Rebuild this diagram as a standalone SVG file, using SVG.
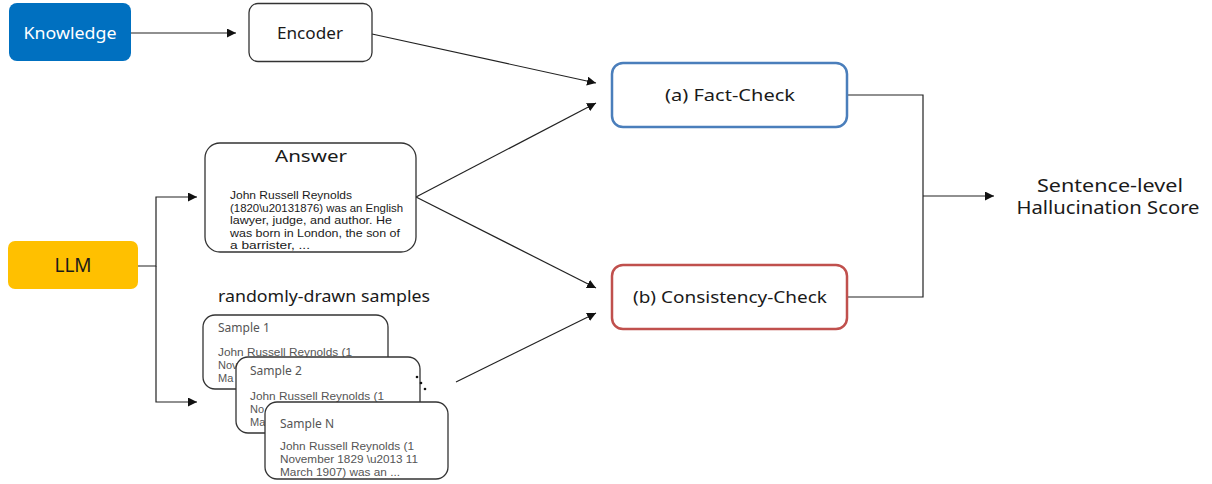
<svg xmlns="http://www.w3.org/2000/svg" width="1212" height="484" viewBox="0 0 1212 484">
<style>
text{font-family:"Noto Sans","Open Sans","Liberation Sans",sans-serif;fill:#1a1a1a}
.box{fill:#fff;stroke:#333;stroke-width:1.3}
.lbl{font-size:17px;text-anchor:middle}
.body{font-family:"Liberation Sans",Arial,sans-serif;font-size:10.5px}
.samp{font-family:"Liberation Sans",Arial,sans-serif;font-size:11px;fill:#555}
.stitle{font-size:12px;fill:#555}
.edge{fill:none;stroke:#222;stroke-width:1.2}
</style>
<defs>
<marker id="ah" viewBox="0 0 10 10" refX="10" refY="5" markerWidth="9" markerHeight="9" markerUnits="userSpaceOnUse" orient="auto">
<path d="M0,0 L10,5 L0,10 z" fill="#111"/>
</marker>
</defs>
<g id="connectors">
<line class="edge" x1="131" y1="33" x2="236" y2="33" marker-end="url(#ah)"/>
<line class="edge" x1="372" y1="34" x2="596" y2="83" marker-end="url(#ah)"/>
<line class="edge" x1="416" y1="197" x2="596" y2="103" marker-end="url(#ah)"/>
<line class="edge" x1="416" y1="197" x2="596" y2="288" marker-end="url(#ah)"/>
<line class="edge" x1="456" y1="382" x2="596" y2="313" marker-end="url(#ah)"/>
<polyline class="edge" points="138,266 156,266 156,197 197,197" marker-end="url(#ah)"/>
<polyline class="edge" points="156,266 156,402 197,402" marker-end="url(#ah)"/>
<polyline class="edge" points="847,95 923,95 923,297 847,297"/>
<line class="edge" x1="923" y1="196" x2="994" y2="196" marker-end="url(#ah)"/>
</g>
<g id="knowledge">
<rect x="9" y="3" width="122" height="58" rx="8" fill="#0070C0"/>
<text x="70" y="39" class="lbl" style="fill:#fff" textLength="93" lengthAdjust="spacingAndGlyphs">Knowledge</text>
</g>
<g id="encoder">
<rect class="box" x="249" y="3.5" width="123" height="58" rx="9"/>
<text x="310" y="39" class="lbl" textLength="66" lengthAdjust="spacingAndGlyphs">Encoder</text>
</g>
<g id="fact-check">
<rect x="612" y="63" width="235" height="64" rx="11" fill="#fff" stroke="#4A7EBB" stroke-width="2.5"/>
<text x="730" y="101" class="lbl" textLength="130" lengthAdjust="spacingAndGlyphs">(a)  Fact-Check</text>
</g>
<g id="consistency-check">
<rect x="612" y="265" width="235" height="64" rx="11" fill="#fff" stroke="#C0504D" stroke-width="2.5"/>
<text x="730" y="303" class="lbl" textLength="194" lengthAdjust="spacingAndGlyphs">(b)  Consistency-Check</text>
</g>
<g id="score">
<text x="1110" y="192" style="font-size:18px;text-anchor:middle" textLength="146" lengthAdjust="spacingAndGlyphs">Sentence-level</text>
<text x="1108" y="214" style="font-size:18px;text-anchor:middle" textLength="183" lengthAdjust="spacingAndGlyphs">Hallucination Score</text>
</g>
<g id="llm">
<rect x="8" y="241" width="130" height="48" rx="7" fill="#FFC000"/>
<text x="73" y="272" style="font-size:19px;text-anchor:middle">LLM</text>
</g>
<g id="answer">
<rect class="box" x="205" y="143" width="211" height="109" rx="15"/>
<text x="311" y="162" style="font-size:17px;text-anchor:middle" textLength="72" lengthAdjust="spacingAndGlyphs">Answer</text>
<text class="body" x="230" y="199" textLength="122" lengthAdjust="spacingAndGlyphs">John Russell Reynolds</text>
<text class="body" x="230" y="211.5" textLength="173" lengthAdjust="spacingAndGlyphs">(1820\u20131876) was an English</text>
<text class="body" x="230" y="224" textLength="162" lengthAdjust="spacingAndGlyphs">lawyer, judge, and author. He</text>
<text class="body" x="230" y="236.5" textLength="170" lengthAdjust="spacingAndGlyphs">was born in London, the son of</text>
<text class="body" x="230" y="249" textLength="80" lengthAdjust="spacingAndGlyphs">a barrister, ...</text>
</g>
<text x="218" y="302" style="font-size:16px" textLength="212" lengthAdjust="spacingAndGlyphs">randomly-drawn samples</text>
<g id="sample-1">
<rect class="box" x="203" y="315" width="185" height="74" rx="12"/>
<text class="stitle" x="218" y="332">Sample 1</text>
<text class="samp" x="218" y="356" textLength="134" lengthAdjust="spacingAndGlyphs">John Russell Reynolds (1</text>
<text class="samp" x="218" y="369">Nov</text>
<text class="samp" x="218" y="382">Ma</text>
</g>
<g id="sample-2">
<rect class="box" x="236" y="357" width="184" height="76" rx="12"/>
<text class="stitle" x="250" y="375">Sample 2</text>
<text class="samp" x="250" y="400" textLength="134" lengthAdjust="spacingAndGlyphs">John Russell Reynolds (1</text>
<text class="samp" x="250" y="413">No</text>
<text class="samp" x="250" y="426">Ma</text>
</g>
<g id="dots">
<circle cx="417" cy="377" r="1.3" fill="#111"/>
<circle cx="421" cy="383" r="1.3" fill="#111"/>
<circle cx="425" cy="389" r="1.3" fill="#111"/>
</g>
<g id="sample-n">
<rect class="box" x="265" y="402" width="183" height="77" rx="12"/>
<text class="stitle" x="280" y="428">Sample N</text>
<text class="samp" x="280" y="450" textLength="134" lengthAdjust="spacingAndGlyphs">John Russell Reynolds (1</text>
<text class="samp" x="280" y="463" textLength="138" lengthAdjust="spacingAndGlyphs">November 1829  \u2013 11</text>
<text class="samp" x="280" y="476" textLength="120" lengthAdjust="spacingAndGlyphs">March 1907) was an ...</text>
</g>
</svg>
